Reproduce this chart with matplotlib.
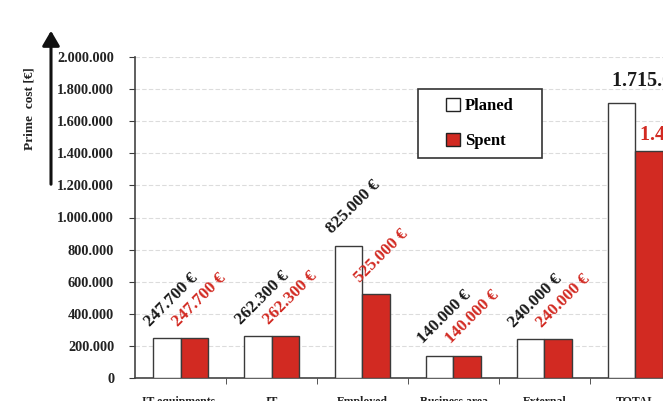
import matplotlib
matplotlib.use("Agg")
import matplotlib.pyplot as plt
import numpy as np
from matplotlib.patches import Patch, Rectangle

categories = ["IT equipments-", "IT", "Employed", "Business area", "External", "TOTAL"]
planed = [247700, 262300, 825000, 140000, 240000, 1715000]
spent = [247700, 262300, 525000, 140000, 240000, 1415000]
yticks = [0, 200000, 400000, 600000, 800000, 1000000, 1200000, 1400000, 1600000, 1800000, 2000000]

RED = "#d22a22"
EDGE = "#3a3a3a"
plt.rcParams["font.family"] = ["Liberation Serif", "DejaVu Serif"]
plt.rcParams["font.weight"] = "bold"

def fmt(v):
    return f"{v:,}".replace(",", ".")

fig = plt.figure(figsize=(6.63, 4.01), dpi=100)
W, H = 663, 401
left, right, top, bottom = 135, 681, 57, 378
ax = fig.add_axes([left / W, 1 - bottom / H, (right - left) / W, (bottom - top) / H])

x = np.arange(len(categories))
w = 0.3
ax.bar(x - w / 2, planed, w, color="white", edgecolor=EDGE, linewidth=1.0, zorder=3)
ax.bar(x + w / 2, spent, w, color=RED, edgecolor=EDGE, linewidth=1.0, zorder=3)

ax.set_xlim(-0.5, 5.5)
ax.set_ylim(0, 2000000)
ax.set_yticks(yticks)
ax.set_yticklabels([fmt(v) for v in yticks], fontsize=10.3, fontweight="bold", color="#222222")
ax.set_xticks(x)
ax.set_xticklabels(categories, fontsize=8.5, fontweight="bold", color="#222222")
ax.set_xticks(np.arange(0.5, 5.5, 1), minor=True)
ax.tick_params(axis="x", which="major", length=0, pad=13)
ax.tick_params(axis="x", which="minor", length=4, direction="out", color=EDGE)
ax.tick_params(axis="y", length=4, direction="out", pad=11, color=EDGE)

for s in ["top", "right"]:
    ax.spines[s].set_visible(False)
for s in ["left", "bottom"]:
    ax.spines[s].set_color("#444444")
    ax.spines[s].set_linewidth(1.2)
ax.yaxis.grid(True, color="#dcdcdc", linewidth=0.8, linestyle=(0, (4, 2)), zorder=0)
ax.set_axisbelow(True)

for i in range(len(categories) - 1):
    ax.annotate(fmt(planed[i]) + " €", xy=(x[i] - w, planed[i]), xytext=(0, 6),
                textcoords="offset points", rotation=45, rotation_mode="anchor",
                ha="left", va="bottom", fontsize=12.3, fontweight="bold", color="#1a1a1a")
    ax.annotate(fmt(spent[i]) + " €", xy=(x[i], spent[i]), xytext=(0, 6),
                textcoords="offset points", rotation=45, rotation_mode="anchor",
                ha="left", va="bottom", fontsize=12.3, fontweight="bold", color=RED)

i = len(categories) - 1
ax.annotate(fmt(planed[i]) + " €", xy=(x[i] - w, planed[i]), xytext=(3, 12),
            textcoords="offset points", ha="left", va="baseline",
            fontsize=14.5, fontweight="bold", color="#1a1a1a", annotation_clip=False)
ax.annotate(fmt(spent[i]) + " €", xy=(x[i], spent[i]), xytext=(3, 8),
            textcoords="offset points", ha="left", va="baseline",
            fontsize=14.5, fontweight="bold", color=RED, annotation_clip=False)

# legend
bx0, bx1 = (418 - left) / (right - left), (542 - left) / (right - left)
by0, by1 = (bottom - 158) / (bottom - top), (bottom - 89) / (bottom - top)
ax.add_patch(Rectangle((bx0, by0), bx1 - bx0, by1 - by0, transform=ax.transAxes,
                       facecolor="white", edgecolor="#333333", linewidth=1.2, zorder=5))
handles = [Patch(facecolor="white", edgecolor="#222222", linewidth=1.0),
           Patch(facecolor=RED, edgecolor="#222222", linewidth=1.0)]
leg = ax.legend(handles, ["Planed", "Spent"], loc="center",
                bbox_to_anchor=((bx0 + bx1) / 2, (by0 + by1) / 2),
                frameon=False, handlelength=0.85, handleheight=0.85,
                handletextpad=0.3, labelspacing=1.1, prop={"weight": "bold", "size": 12})
leg.set_zorder(6)

# y label and arrow
fig.text(30 / W, 1 - 109 / H, "Prime  cost [€]", rotation=90, ha="center", va="center",
         fontsize=9.6, fontweight="bold", color="#222222")
fig.add_artist(matplotlib.patches.FancyArrowPatch(
    (51 / W, 1 - 187 / H), (51 / W, 1 - 28 / H), transform=fig.transFigure,
    arrowstyle="-|>,head_length=6,head_width=3.5", color="#111111", linewidth=2.2,
    mutation_scale=1.5))

fig.savefig("out.png", dpi=100)
